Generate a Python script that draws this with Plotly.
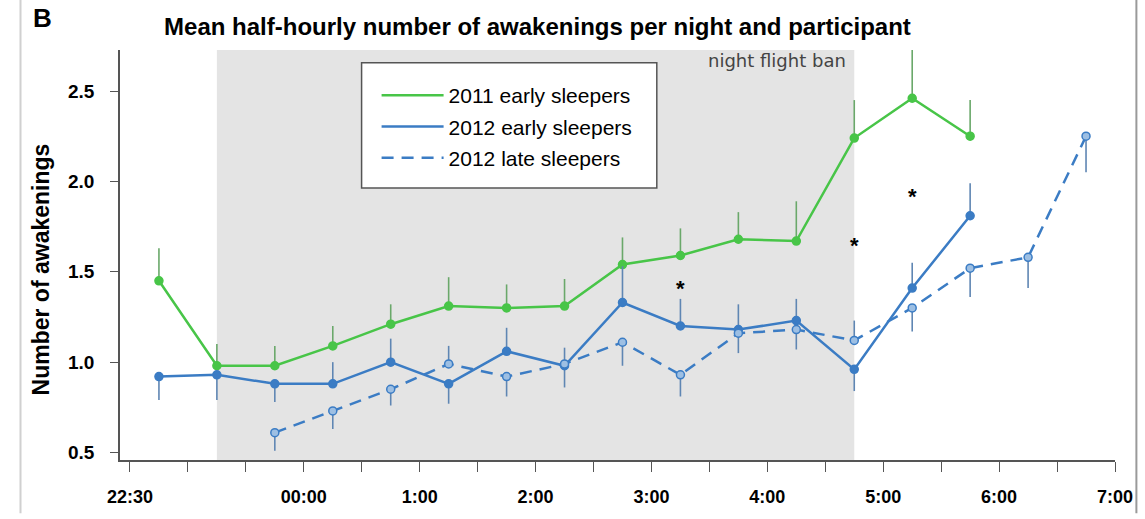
import plotly.graph_objects as go

# ---- data (hours; 24 = 00:00, 25 = 1:00 ...) ----
early_x = [22.75, 23.25, 23.75, 24.25, 24.75, 25.25, 25.75, 26.25, 26.75, 27.25, 27.75, 28.25, 28.75, 29.25, 29.75]
late_x = [23.75, 24.25, 24.75, 25.25, 25.75, 26.25, 26.75, 27.25, 27.75, 28.25, 28.75, 29.25, 29.75, 30.25, 30.75]

g2011_y = [1.45, 0.98, 0.98, 1.09, 1.21, 1.31, 1.30, 1.31, 1.54, 1.59, 1.68, 1.67, 2.24, 2.46, 2.25]
g2011_up = [0.18, 0.12, 0.11, 0.11, 0.11, 0.16, 0.13, 0.15, 0.15, 0.15, 0.15, 0.22, 0.21, 0.27, 0.20]
g2011_dn = [0] * 15

e2012_y = [0.92, 0.93, 0.88, 0.88, 1.00, 0.88, 1.06, 0.98, 1.33, 1.20, 1.18, 1.23, 0.96, 1.41, 1.81]
e2012_up = [0, 0, 0, 0.12, 0.13, 0, 0.13, 0, 0.20, 0.15, 0.14, 0.12, 0, 0.14, 0.18]
e2012_dn = [0.13, 0.14, 0.10, 0, 0, 0.11, 0, 0.12, 0, 0, 0, 0, 0.12, 0, 0]

l2012_y = [0.61, 0.73, 0.85, 0.99, 0.92, 0.99, 1.11, 0.93, 1.16, 1.18, 1.12, 1.30, 1.52, 1.58, 2.25]
l2012_up = [0, 0, 0, 0.10, 0, 0.09, 0, 0, 0, 0, 0.11, 0, 0, 0, 0]
l2012_dn = [0.10, 0.10, 0.09, 0, 0.11, 0, 0.13, 0.12, 0.11, 0.11, 0, 0.13, 0.16, 0.17, 0.20]

star_x = [27.25, 28.75, 29.25]
star_y = [1.44, 1.68, 1.95]

tick_vals = [22.5 + 0.5 * i for i in range(18)]
tick_text = ["22:30", "", "", "00:00", "", "1:00", "", "2:00", "", "3:00", "", "4:00", "", "5:00", "", "6:00", "", "7:00"]
y_ticks = [0.5, 1.0, 1.5, 2.0, 2.5]
y_tick_text = ["0.5", "1.0", "1.5", "2.0", "2.5"]

ban_start, ban_end = 23.25, 28.75

GREEN = "#48c548"
BLUE = "#3b7cc4"
GREEN_ERR = "#6aa86a"
BLUE_ERR = "#5f86b3"
FONT = "Liberation Sans, Arial, sans-serif"
DASH = "12px,8px"

fig = go.Figure()

series = [
    ("2011 early sleepers", early_x, g2011_y, g2011_up, g2011_dn, GREEN, GREEN_ERR, "solid", GREEN),
    ("2012 early sleepers", early_x, e2012_y, e2012_up, e2012_dn, BLUE, BLUE_ERR, "solid", BLUE),
    ("2012 late sleepers", late_x, l2012_y, l2012_up, l2012_dn, BLUE, BLUE_ERR, DASH, "#9dbfe3"),
]

for name, xs, ys, up, dn, col, ecol, dash, fill in series:
    fig.add_trace(go.Scatter(
        x=xs, y=ys, mode="lines+markers", name=name, showlegend=False,
        line=dict(color=col, width=2.5, dash=dash),
        marker=dict(color=fill, size=8, line=dict(color=col, width=1.5)),
        error_y=dict(type="data", symmetric=False, array=up, arrayminus=dn,
                     width=0, thickness=1.6, color=ecol),
    ))

# legend entries (line samples only, as in the reference)
for i, (name, xs, ys, up, dn, col, ecol, dash, fill) in enumerate(series):
    fig.add_trace(go.Scatter(
        x=[None], y=[None], mode="lines", name=name, legendgroup=f"g{i}",
        line=dict(color=col, width=2.5, dash=dash), showlegend=True,
    ))

for sx, sy in zip(star_x, star_y):
    fig.add_annotation(x=sx, y=sy, text="<b>*</b>", showarrow=False, yshift=-6,
                       font=dict(family=FONT, size=22, color="black"))

fig.add_shape(type="rect", xref="x", yref="paper", x0=ban_start, x1=ban_end, y0=0, y1=1,
              fillcolor="#e4e4e4", line=dict(width=0), layer="below")

# legend frame
fig.add_shape(type="rect", xref="paper", yref="paper", x0=0.2428, x1=0.5395, y0=0.6635, y1=0.9688,
              fillcolor="white", line=dict(color="#555555", width=1.5), layer="above")

# picture frame lines
fig.add_shape(type="line", xref="paper", yref="paper", x0=-0.10, x1=-0.10, y0=-0.13, y1=1.13,
              line=dict(color="#d0d0d0", width=2))
fig.add_shape(type="line", xref="paper", yref="paper", x0=1.0215, x1=1.0215, y0=-0.13, y1=1.13,
              line=dict(color="#9a9a9a", width=2))

fig.add_annotation(text="night flight ban", x=ban_end, xanchor="right", xshift=-6,
                   y=1, yref="paper", yanchor="top", yshift=2, showarrow=False,
                   font=dict(family="DejaVu Sans", size=18, color="#444444"))
fig.add_annotation(text="<b>B</b>", x=-0.078, xref="paper", xanchor="center",
                   y=1.077, yref="paper", yanchor="middle", showarrow=False,
                   font=dict(family=FONT, size=26, color="black"))
fig.add_annotation(text="<b>Number of awakenings</b>", textangle=-90,
                   x=-0.0799, xref="paper", xanchor="center",
                   y=0.466, yref="paper", yanchor="middle", showarrow=False,
                   font=dict(family=FONT, size=23, color="black"))

fig.update_layout(
    width=1145, height=519,
    margin=dict(l=120, r=24, t=50, b=53),
    paper_bgcolor="white", plot_bgcolor="white",
    title=dict(text="<b>Mean half-hourly number of awakenings per night and participant</b>",
               x=0.4694, xanchor="center", y=0.948, yanchor="middle",
               font=dict(family=FONT, size=24, color="black")),
    font=dict(family=FONT, color="black"),
    showlegend=True,
    legend=dict(x=0.2428, y=0.939, xanchor="left", yanchor="top",
                bgcolor="rgba(0,0,0,0)", borderwidth=0,
                font=dict(family=FONT, size=21, color="black"),
                tracegroupgap=1, itemwidth=62, indentation=15),
    xaxis=dict(range=[22.414, 31.0], tickvals=tick_vals, ticktext=tick_text,
               showgrid=False, zeroline=False, showline=True, linecolor="#555555", linewidth=1.5,
               ticks="outside", ticklen=10, tickcolor="#555555", tickwidth=1.2,
               ticklabelstandoff=10,
               tickfont=dict(family=FONT, size=18, color="black", weight="bold")),
    yaxis=dict(range=[0.4586, 2.727], tickvals=y_ticks, ticktext=y_tick_text,
               showgrid=False, zeroline=False, showline=True, linecolor="#555555", linewidth=1.5,
               ticks="outside", ticklen=8, tickcolor="#555555",
               ticklabelstandoff=12,
               tickfont=dict(family=FONT, size=19, color="black", weight="bold")),
)

fig.write_html("out.html")
